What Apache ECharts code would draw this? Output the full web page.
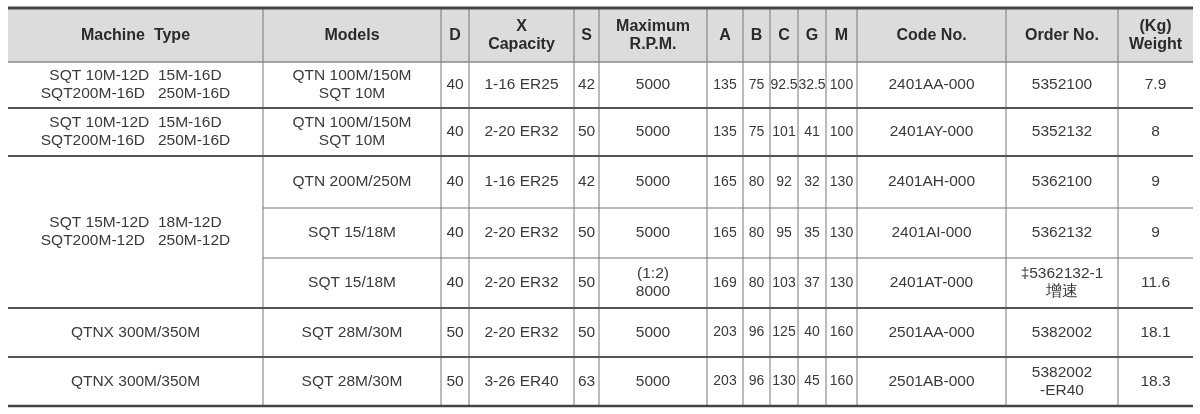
<!DOCTYPE html>
<html><head><meta charset="utf-8">
<script src="https://cdn.jsdelivr.net/npm/echarts@6/dist/echarts.min.js"></script>
<style>html,body{margin:0;background:#fff}#c{width:1200px;height:414px}</style>
</head><body><div id="c"></div>
<script>
const headers = ["Machine  Type","Models","D","X\nCapacity","S","Maximum\nR.P.M.","A","B","C","G","M","Code No.","Order No.","(Kg)\nWeight"];
const machineTypes = ["SQT 10M-12D  15M-16D\nSQT200M-16D   250M-16D","SQT 10M-12D  15M-16D\nSQT200M-16D   250M-16D","SQT 15M-12D  18M-12D\nSQT200M-12D   250M-12D","QTNX 300M/350M","QTNX 300M/350M"];
const machineSpan = [1,1,3,1,1];
const models = ["QTN 100M/150M\nSQT 10M","QTN 100M/150M\nSQT 10M","QTN 200M/250M","SQT 15/18M","SQT 15/18M","SQT 28M/30M","SQT 28M/30M"];
const colD = ["40","40","40","40","40","50","50"];
const capacity = ["1-16 ER25","2-20 ER32","1-16 ER25","2-20 ER32","2-20 ER32","2-20 ER32","3-26 ER40"];
const colS = ["42","50","42","50","50","50","63"];
const rpm = ["5000","5000","5000","5000","(1:2)\n8000","5000","5000"];
const colA = ["135","135","165","165","169","203","203"];
const colB = ["75","75","80","80","80","96","96"];
const colC = ["92.5","101","92","95","103","125","130"];
const colG = ["32.5","41","32","35","37","40","45"];
const colM = ["100","100","130","130","130","160","160"];
const codeNo = ["2401AA-000","2401AY-000","2401AH-000","2401AI-000","2401AT-000","2501AA-000","2501AB-000"];
const orderNo = ["5352100","5352132","5362100","5362132","\u20215362132-1\n增速","5382002","5382002\n-ER40"];
const weight = ["7.9","8","9","9","11.6","18.1","18.3"];

const colX = [8,263,441,469,574,599,707,743,770,798,826,857,1006,1118,1193];
const rowY = [8,62,108,156,208,258,308,357,406];

const g = [];
const font = 'Liberation Sans, Arial, sans-serif';
g.push({type:'rect',shape:{x:colX[0],y:rowY[0],width:colX[14]-colX[0],height:rowY[1]-rowY[0]},style:{fill:'#dcdcdc'},silent:true});
function txt(x,y,s,bold,small){
  const fs = bold?'bold 16px ':(small?'14px ':'15.5px ');
  g.push({type:'text',x:x,y:y,style:{text:s,x:0,y:0,align:'center',verticalAlign:'middle',font:fs+font,fill:bold?'#2a2a2a':'#3a3a3a',lineHeight:18}});
}
headers.forEach((h,i)=>txt((colX[i]+colX[i+1])/2,(rowY[0]+rowY[1])/2+1,h,true));
const cols = [null,models,colD,capacity,colS,rpm,colA,colB,colC,colG,colM,codeNo,orderNo,weight];
for(let r=0;r<7;r++){
  const cy=(rowY[r+1]+rowY[r+2])/2;
  for(let c=1;c<14;c++) txt((colX[c]+colX[c+1])/2,cy,cols[c][r],false,c>=6&&c<=10);
}
let r0=0;
machineTypes.forEach((m,i)=>{
  const y0=rowY[r0+1], y1=rowY[r0+1+machineSpan[i]];
  txt((colX[0]+colX[1])/2,(y0+y1)/2,m,false);
  r0+=machineSpan[i];
});
function line(x1,y1,x2,y2,w,c){g.push({type:'line',shape:{x1,y1,x2,y2},style:{stroke:c,lineWidth:w},silent:true});}
for(let i=1;i<colX.length-1;i++){
  line(colX[i],rowY[0],colX[i],rowY[8],1,'#777');
}
line(colX[0],rowY[0],colX[14],rowY[0],3,'#444');
line(colX[0],rowY[1],colX[14],rowY[1],1.5,'#888');
for(let r=2;r<8;r++){
  if(r==4||r==5) line(colX[1],rowY[r],colX[14],rowY[r],1.2,'#777');
  else line(colX[0],rowY[r],colX[14],rowY[r],2,'#555');
}
line(colX[0],rowY[8],colX[14],rowY[8],2.5,'#444');
const chart=echarts.init(document.getElementById('c'));
chart.setOption({animation:false,graphic:{elements:g}});
</script></body></html>
